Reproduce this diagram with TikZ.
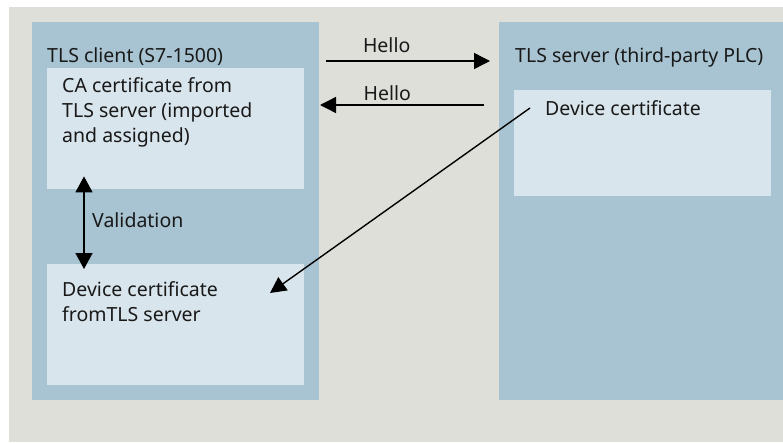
\documentclass[tikz,border=0pt]{standalone}
\usepackage{fontspec}
\setmainfont{Noto Sans}
\usetikzlibrary{positioning,arrows.meta}
\definecolor{bggray}{HTML}{DFDFDA}
\definecolor{boxblue}{HTML}{A8C4D2}
\definecolor{certblue}{HTML}{D9E5EC}
\tikzset{
  pane/.style={rectangle, inner sep=0pt, anchor=north west, fill=boxblue},
  cert/.style={rectangle, inner sep=0pt, anchor=north west, fill=certblue},
  lbl/.style={anchor=west, inner sep=0pt, font=\fontsize{19.5}{25}\selectfont, align=left, text=black!90},
  msg/.style={line width=1.4pt, -{Triangle[length=16pt,width=16pt]}},
  valid/.style={line width=1.4pt, {Triangle[length=16pt,width=17pt]}-{Triangle[length=16pt,width=17pt]}}
}

\begin{document}
\begin{tikzpicture}[x=1pt,y=-1pt]
	\useasboundingbox (0,0) rectangle (783,442);
	\fill[white] (0,0) rectangle (783,442);
	\node[pane, fill=bggray, minimum width=774pt, minimum height=435pt] (bg) at (9,7) {};
	\node[pane, minimum width=287pt, minimum height=378pt] (client) at (32,22) {};
	\node[pane, minimum width=284pt, minimum height=378pt] (server) at (499,22) {};
	\node[cert, minimum width=257pt, minimum height=121pt] (cacert) at (47,68) {};
	\node[cert, minimum width=257pt, minimum height=121pt] (clientdev) at (47,264) {};
	\node[cert, minimum width=257pt, minimum height=106pt] (serverdev) at (514,90) {};
	% texts
	\node[lbl] (clienttitle) at (47,57) {TLS client (S7-1500)};
	\node[lbl] (servertitle) at (515,57) {TLS server (third-party PLC)};
	\node[lbl] (catext) at (62,112) {CA certificate from\\TLS server (imported\\and assigned)};
	\node[lbl] (clientdevtext) at (62,302) {Device certificate\\fromTLS server};
	\node[lbl] (serverdevtext) at (545,108) {Device certificate};
	\node[lbl] (validtext) at (92,220) {Validation};
	% hello
	\coordinate (h1s) at (326,61);
	\coordinate (h1e) at (490,61);
	\coordinate (h2s) at (484,105);
	\coordinate (h2e) at (320,105);
	\draw[msg] (h1s) -- node[pos=0.37, lbl, anchor=base, yshift=9pt] (hello1) {Hello} (h1e);
	\draw[msg] (h2s) -- node[pos=0.59, lbl, anchor=base, yshift=5pt] (hello2) {Hello} (h2e);
	% validation and certificate transfer
	\draw[valid] ([xshift=37pt,yshift=13pt]cacert.south west) -- ([xshift=37pt,yshift=-5pt]clientdev.north west);
	\draw[msg] ([xshift=-15pt]serverdevtext.west) -- ([xshift=223pt,yshift=-29pt]clientdev.north west);
\end{tikzpicture}
\end{document}
